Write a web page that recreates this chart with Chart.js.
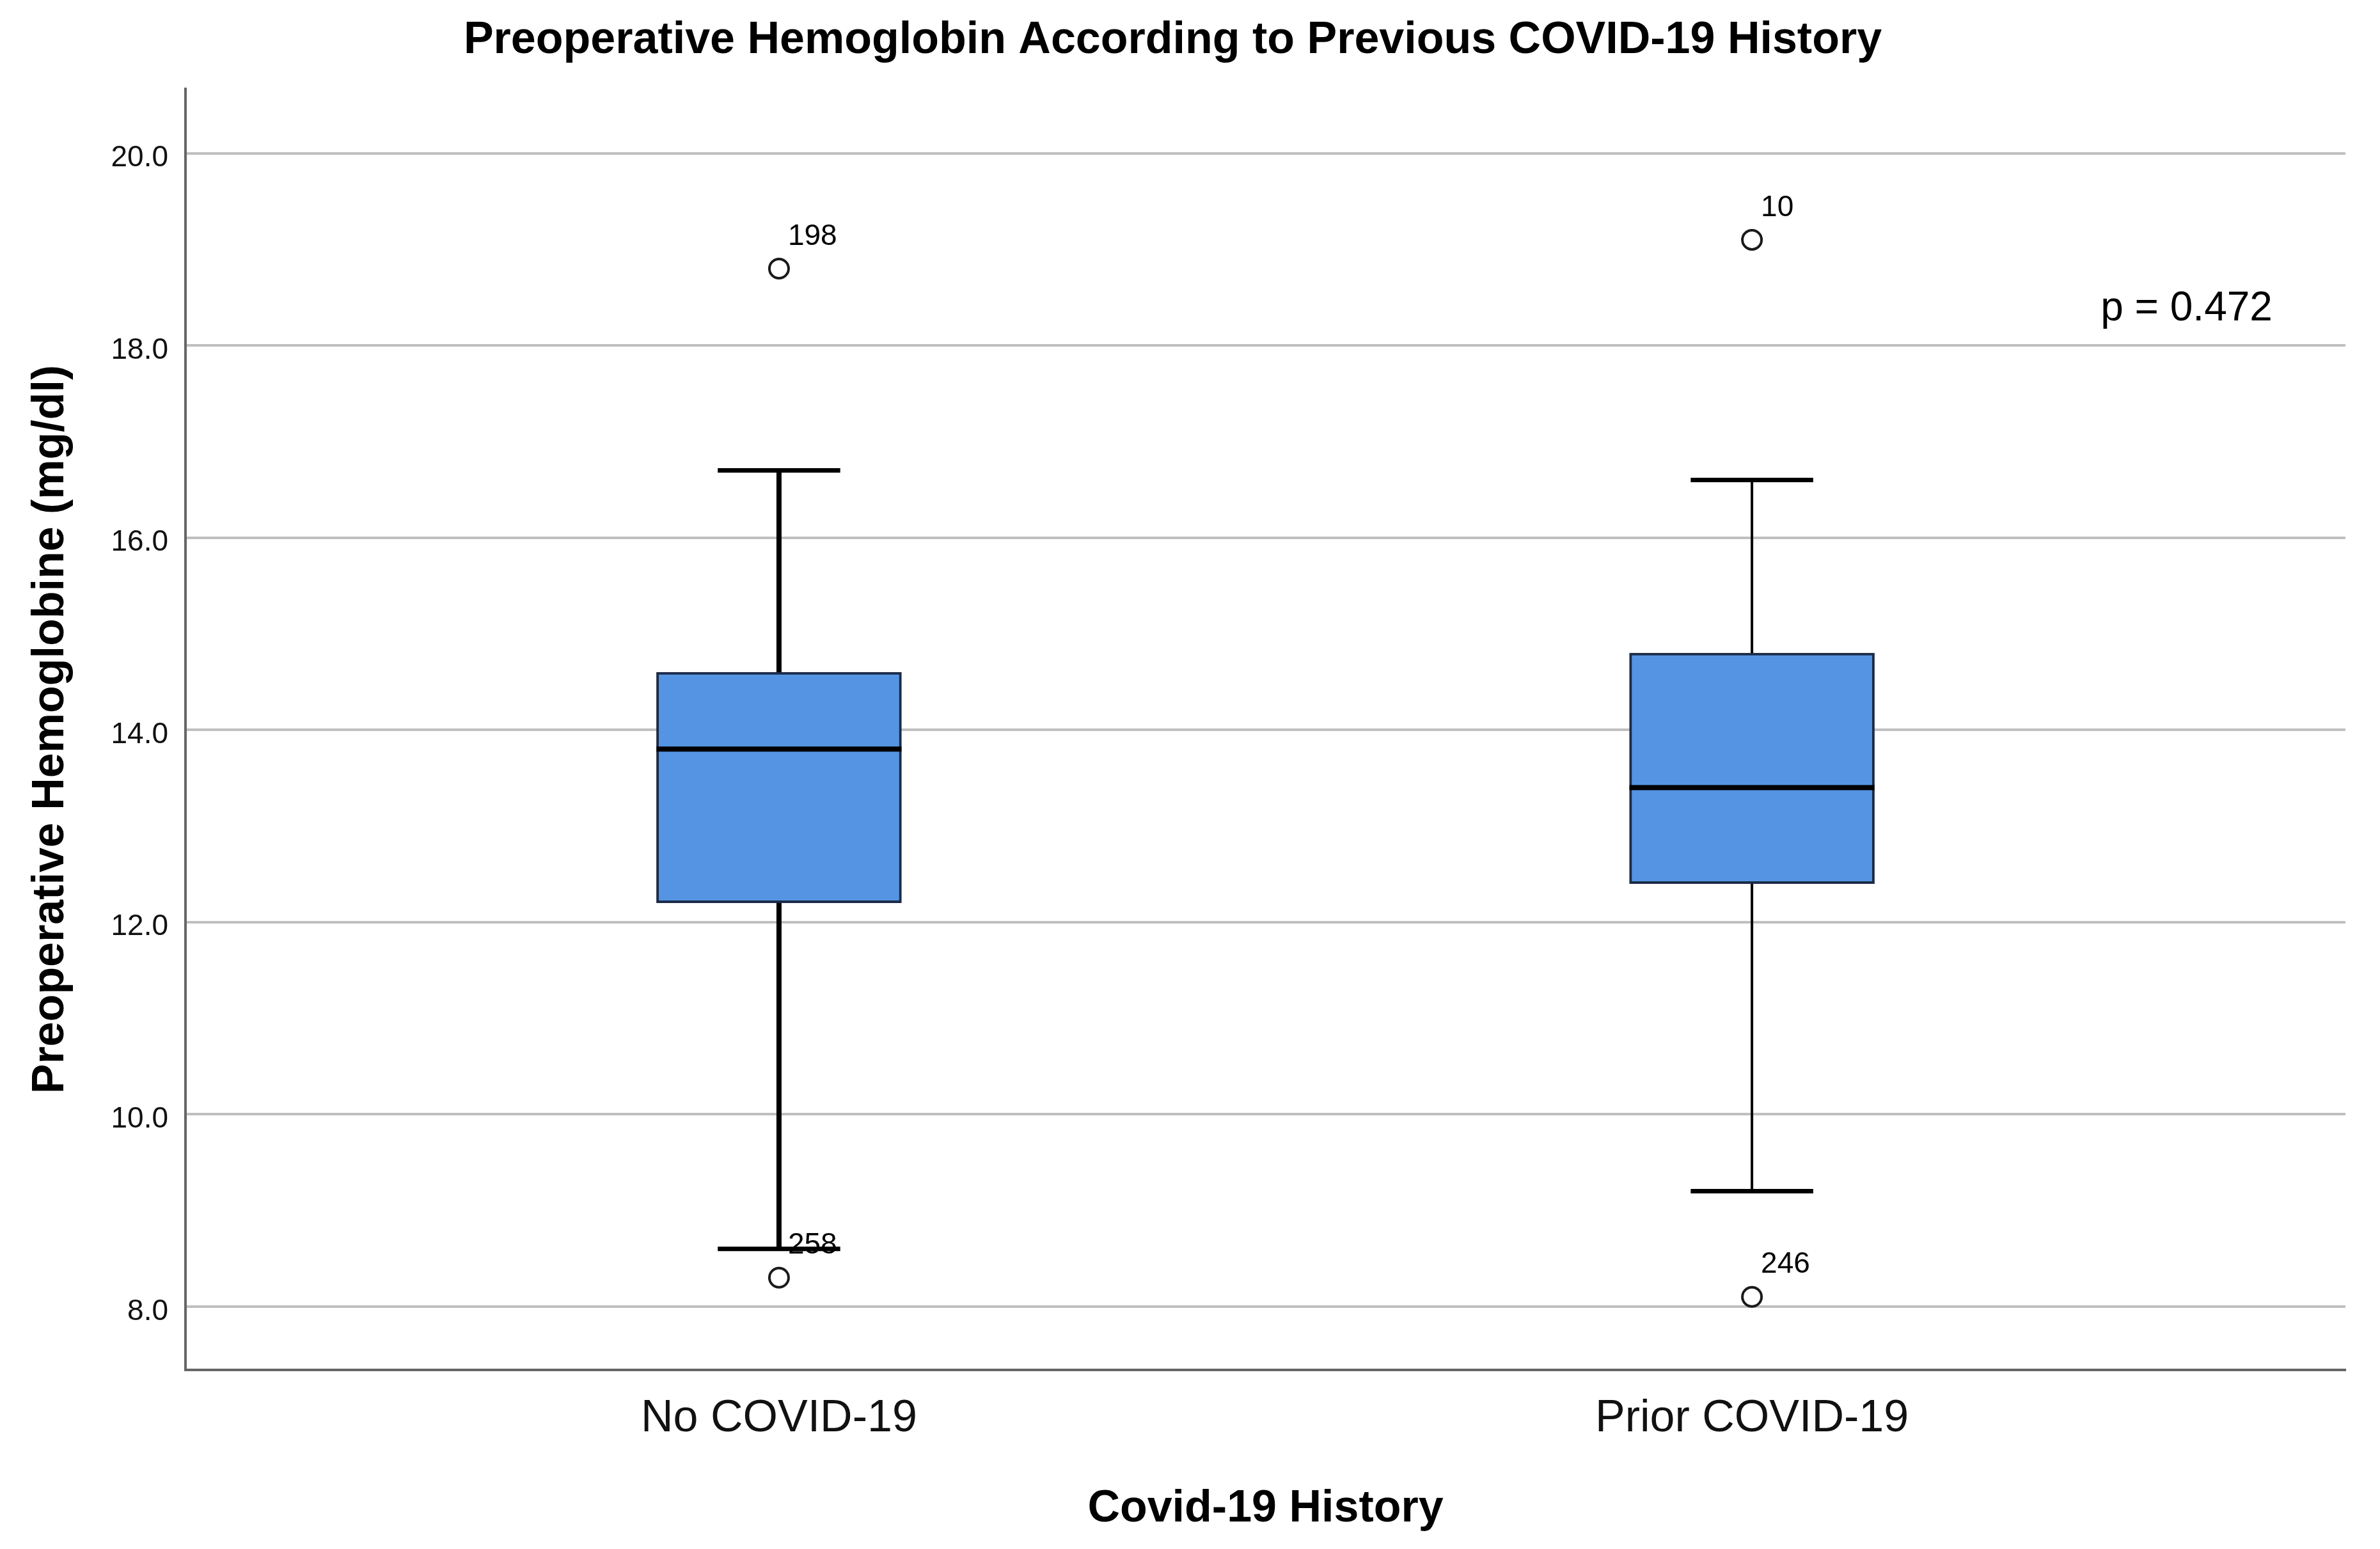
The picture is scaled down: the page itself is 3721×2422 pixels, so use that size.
<!DOCTYPE html>
<html>
<head>
<meta charset="utf-8">
<script src="https://cdn.jsdelivr.net/npm/chart.js@4.4.1/dist/chart.umd.min.js"></script>
<style>
  html, body { margin: 0; padding: 0; background: #fff; }
  #wrap { width: 3721px; height: 2422px; }
</style>
</head>
<body>
<div id="wrap"><canvas id="boxChart"></canvas></div>
<script>
// Preoperative hemoglobin by COVID-19 history, SPSS style boxplot
const groups = ['No COVID-19', 'Prior COVID-19'];
const whiskerLow = [8.6, 9.2];
const q1 = [12.2, 12.4];
const median = [13.8, 13.4];
const q3 = [14.6, 14.8];
const whiskerHigh = [16.7, 16.6];
const outlierValues = [[18.8, 8.3], [19.1, 8.1]];
const outlierIds = [['198', '258'], ['10', '246']];
const yTicks = [8, 10, 12, 14, 16, 18, 20];
const pText = 'p = 0.472';

Chart.defaults.font.family = '"Liberation Sans", Arial, sans-serif';
Chart.defaults.color = '#000';

const whiskerWidth = [8, 4];

// whiskers, caps, medians and case labels are drawn on top of the bar boxes
const boxParts = {
  id: 'boxParts',
  beforeDatasetsDraw(chart) {
    const {ctx, scales: {y}} = chart;
    const bars = chart.getDatasetMeta(0).data;
    ctx.save();
    ctx.strokeStyle = '#000';
    ctx.lineCap = 'butt';
    groups.forEach((g, i) => {
      const cx = bars[i].x;
      const half = bars[i].width / 4;
      ctx.lineWidth = whiskerWidth[i];
      ctx.beginPath();
      ctx.moveTo(cx, y.getPixelForValue(q3[i]));
      ctx.lineTo(cx, y.getPixelForValue(whiskerHigh[i]));
      ctx.moveTo(cx, y.getPixelForValue(q1[i]));
      ctx.lineTo(cx, y.getPixelForValue(whiskerLow[i]));
      ctx.stroke();
      ctx.lineWidth = 7;
      ctx.beginPath();
      [whiskerHigh[i], whiskerLow[i]].forEach(v => {
        const py = y.getPixelForValue(v);
        ctx.moveTo(cx - half, py);
        ctx.lineTo(cx + half, py);
      });
      ctx.stroke();
    });
    ctx.restore();
  },
  afterDatasetsDraw(chart) {
    const {ctx, scales: {x, y}} = chart;
    const bars = chart.getDatasetMeta(0).data;
    ctx.save();
    ctx.strokeStyle = '#000';
    ctx.lineWidth = 8;
    groups.forEach((g, i) => {
      const py = y.getPixelForValue(median[i]);
      ctx.beginPath();
      ctx.moveTo(bars[i].x - bars[i].width / 2, py);
      ctx.lineTo(bars[i].x + bars[i].width / 2, py);
      ctx.stroke();
    });
    ctx.fillStyle = '#000';
    ctx.font = '46px "Liberation Sans", Arial, sans-serif';
    ctx.textAlign = 'left';
    ctx.textBaseline = 'middle';
    outlierValues.forEach((vals, i) => {
      vals.forEach((v, k) => {
        ctx.fillText(outlierIds[i][k], x.getPixelForValue(i) + 14, y.getPixelForValue(v) - 50);
      });
    });
    ctx.font = '64px "Liberation Sans", Arial, sans-serif';
    ctx.textAlign = 'right';
    ctx.fillText(pText, x.getPixelForValue(1.535), y.getPixelForValue(18.38));
    ctx.restore();
  }
};

new Chart(document.getElementById('boxChart'), {
  type: 'bar',
  data: {
    datasets: [
      {
        type: 'bar',
        data: groups.map((g, i) => ({x: i, y: [q1[i], q3[i]]})),
        backgroundColor: '#5594e2',
        borderColor: '#1c2b48',
        borderWidth: 4,
        borderSkipped: false,
        barThickness: 383
      },
      {
        type: 'scatter',
        data: outlierValues.flatMap((vals, i) => vals.map(v => ({x: i, y: v}))),
        pointStyle: 'circle',
        pointRadius: 15,
        pointBorderWidth: 4,
        pointBorderColor: '#1a1a1a',
        pointBackgroundColor: 'rgba(0,0,0,0)'
      }
    ]
  },
  options: {
    responsive: true,
    maintainAspectRatio: false,
    animation: false,
    devicePixelRatio: 1,
    layout: {padding: {left: 0, right: 54, top: 0, bottom: 0}},
    plugins: {
      legend: {display: false},
      tooltip: {enabled: false},
      title: {
        display: true,
        text: 'Preoperative Hemoglobin According to Previous COVID-19 History',
        font: {size: 70, weight: 'bold'},
        color: '#000',
        padding: {top: 22, bottom: 33}
      }
    },
    scales: {
      x: {
        type: 'linear',
        min: -0.61,
        max: 1.61,
        offset: false,
        afterBuildTicks: s => { s.ticks = groups.map((g, i) => ({value: i})); },
        afterFit: s => { s.height = 280; },
        ticks: {
          callback: v => groups[v],
          font: {size: 70},
          color: '#111',
          padding: 35,
          autoSkip: false,
          maxRotation: 0
        },
        grid: {display: false, drawTicks: false, offset: false},
        border: {display: true, color: '#666', width: 4},
        title: {
          display: true,
          text: 'Covid-19 History',
          font: {size: 70, weight: 'bold'},
          color: '#000',
          padding: {top: 0, bottom: 20}
        }
      },
      y: {
        min: 7.34,
        max: 20.67,
        afterBuildTicks: s => { s.ticks = yTicks.map(v => ({value: v})); },
        afterFit: s => { s.width = 290; },
        ticks: {
          callback: v => v.toFixed(1),
          font: {size: 46},
          color: '#111',
          padding: 27,
          labelOffset: 8
        },
        grid: {color: '#bfbfbf', lineWidth: 4, drawTicks: false},
        border: {color: '#666', width: 4},
        title: {
          display: true,
          text: 'Preoperative Hemoglobine (mg/dl)',
          font: {size: 70, weight: 'bold'},
          color: '#000',
          padding: {top: 38, bottom: 0}
        }
      }
    }
  },
  plugins: [boxParts]
});
</script>
</body>
</html>
